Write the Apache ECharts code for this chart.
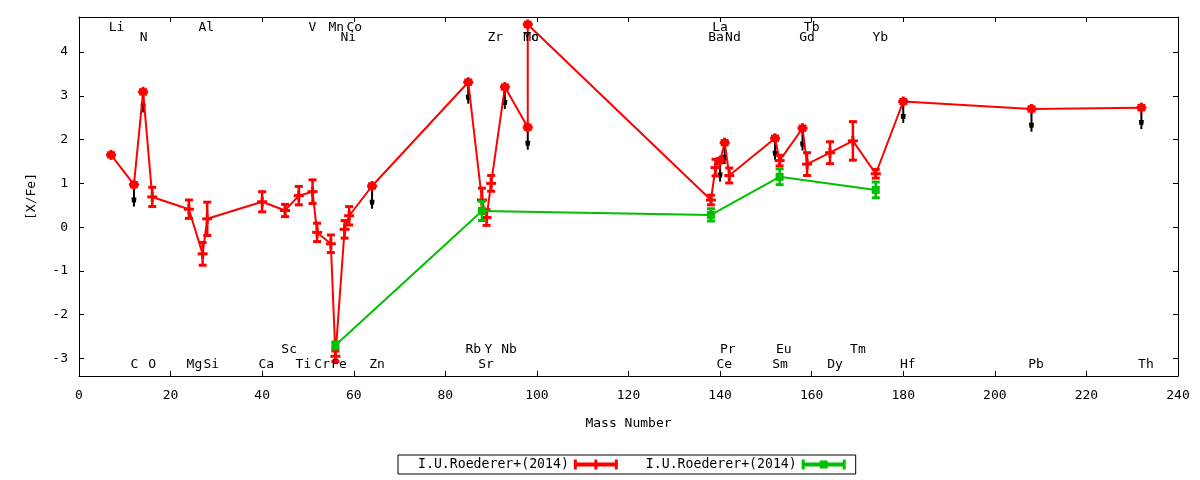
<!DOCTYPE html>
<html>
<head>
<meta charset="utf-8">
<script src="https://cdn.jsdelivr.net/npm/echarts@6/dist/echarts.min.js"></script>
<style>
  html, body { margin: 0; padding: 0; background: #fff; }
  #main { width: 1200px; height: 480px; }
</style>
</head>
<body>
<div id="main"></div>
<script>
// red set: mass number, [X/Fe], error
var redMass = [7, 12, 14, 16, 24, 27, 28, 40, 45, 48, 51, 52, 55, 56, 58, 59, 64,
  85, 88, 89, 90, 93, 98, 98, 138, 139, 140, 141, 142, 152, 153, 158, 159, 164, 169, 174, 180, 208, 232];
var redVal = [1.65, 0.97, 3.09, 0.69, 0.41, -0.61, 0.19, 0.58, 0.38, 0.72, 0.81, -0.12, -0.38, -2.95, -0.05, 0.26, 0.94,
  3.31, 0.62, 0.22, 1.0, 3.2, 2.28, 4.63, 0.62, 1.36, 1.52, 1.93, 1.18, 2.03, 1.52, 2.26, 1.44, 1.70, 1.97, 1.22, 2.87, 2.70, 2.73];
var redErr = [0.05, 0.05, 0.05, 0.22, 0.21, 0.26, 0.38, 0.23, 0.14, 0.21, 0.27, 0.21, 0.2, 0.12, 0.2, 0.21, 0.05,
  0.05, 0.27, 0.18, 0.18, 0.05, 0.05, 0.05, 0.11, 0.19, 0.05, 0.05, 0.17, 0.05, 0.12, 0.05, 0.26, 0.25, 0.44, 0.1, 0.05, 0.05, 0.05];

// green set
var greenMass = [56, 88, 138, 153, 174];
var greenVal = [-2.70, 0.37, 0.28, 1.15, 0.85];
var greenErr = [0.08, 0.22, 0.14, 0.18, 0.18];

// upper limit arrows (black)
var arrowMass = [12, 14, 64, 85, 93, 98, 140, 141, 152, 158, 180, 208, 232];
var arrowTop = [0.97, 3.09, 0.94, 3.31, 3.2, 2.28, 1.52, 1.93, 2.03, 2.26, 2.87, 2.70, 2.73];
var arrowTip = [0.47, 2.62, 0.42, 2.82, 2.70, 1.77, 1.04, 1.44, 1.54, 1.75, 2.38, 2.18, 2.24];

// element labels: name, x position, row (0,1 top; 2,3 bottom)
var labelNames = ['Li', 'Al', 'V', 'Mn', 'Co', 'La', 'Tb',
  'N', 'Ni', 'Zr', 'Mo', 'Tc', 'Ba', 'Nd', 'Gd', 'Yb',
  'Sc', 'Rb', 'Y', 'Nb', 'Pr', 'Eu', 'Tm',
  'C', 'O', 'Mg', 'Si', 'Ca', 'Ti', 'Cr', 'Fe', 'Zn', 'Sr', 'Ce', 'Sm', 'Dy', 'Hf', 'Pb', 'Th'];
var labelX = [8.2, 27.8, 51, 56.2, 60.1, 140, 160,
  14.1, 58.8, 90.9, 98.7, 98.7, 139.1, 142.8, 159, 175,
  45.9, 86.1, 89.4, 93.9, 141.7, 153.9, 170.1,
  12.1, 16, 25.2, 28.9, 40.9, 49, 53.1, 56.8, 65.1, 88.9, 140.9, 153.1, 165.1, 181, 209, 233];
var labelRow = [0, 0, 0, 0, 0, 0, 0,
  1, 1, 1, 1, 1, 1, 1, 1, 1,
  2, 2, 2, 2, 2, 2, 2,
  3, 3, 3, 3, 3, 3, 3, 3, 3, 3, 3, 3, 3, 3, 3, 3];

var seriesName = 'I.U.Roederer+(2014)';
var RED = '#ff0000';
var GREEN = '#00c000';
var FONT = 'DejaVu Sans Mono';

function zip3(a, b, c) {
  return a.map(function (v, i) { return [v, b[i], c[i]]; });
}

function errorBars(color, square) {
  return function (params, api) {
    var x = api.value(0), v = api.value(1), e = api.value(2);
    var c = api.coord([x, v]);
    var hi = api.coord([x, v + e]);
    var lo = api.coord([x, v - e]);
    var st = { stroke: color, lineWidth: 3 };
    var kids = [
      { type: 'line', shape: { x1: c[0], y1: hi[1], x2: c[0], y2: lo[1] }, style: { stroke: color, lineWidth: 2.5 } },
      { type: 'line', shape: { x1: c[0] - 4, y1: hi[1], x2: c[0] + 4, y2: hi[1] }, style: st },
      { type: 'line', shape: { x1: c[0] - 4, y1: lo[1], x2: c[0] + 4, y2: lo[1] }, style: st }
    ];
    if (square) {
      kids.push({ type: 'rect', shape: { x: c[0] - 4, y: c[1] - 4, width: 8, height: 8 }, style: { fill: color } });
    } else {
      kids.push({ type: 'line', shape: { x1: c[0] - 5, y1: c[1], x2: c[0] + 5, y2: c[1] }, style: st });
      kids.push({ type: 'line', shape: { x1: c[0], y1: c[1] - 5, x2: c[0], y2: c[1] + 5 }, style: st });
    }
    return { type: 'group', children: kids };
  };
}

function arrowItem(params, api) {
  var a = api.coord([api.value(0), api.value(1)]);
  var b = api.coord([api.value(0), api.value(2)]);
  return {
    type: 'group',
    children: [
      { type: 'line', shape: { x1: a[0], y1: a[1], x2: b[0], y2: b[1] }, style: { stroke: '#000', lineWidth: 2 } },
      { type: 'polygon', shape: { points: [[b[0] - 2.5, b[1] - 9], [b[0] + 2.5, b[1] - 9], [b[0] + 2, b[1] - 4], [b[0] - 2, b[1] - 4]] }, style: { fill: '#000' } }
    ]
  };
}

function labelItem(params, api) {
  var p = api.coord([api.value(0), 0]);
  var cs = params.coordSys;
  var rows = [cs.y + 10.5, cs.y + 20.5, cs.y + cs.height - 26, cs.y + cs.height - 11.5];
  return {
    type: 'text',
    x: p[0],
    y: rows[api.value(1)],
    style: {
      text: labelNames[params.dataIndex],
      align: 'center',
      verticalAlign: 'middle',
      fontSize: 13,
      fontFamily: FONT,
      fill: '#000'
    }
  };
}

var chart = echarts.init(document.getElementById('main'));

var axisText = { color: '#000', fontSize: 13, fontFamily: FONT };
var tick = { show: true, inside: true, length: 5, lineStyle: { color: '#000' } };
var line = { show: true, onZero: false, lineStyle: { color: '#000', width: 1 } };

var option = {
  backgroundColor: '#fff',
  animation: false,
  grid: { left: 79, right: 22, top: 17, bottom: 104 },
  legend: {
    left: 398,
    top: 455,
    align: 'right',
    orient: 'horizontal',
    borderColor: '#000',
    borderWidth: 1,
    borderRadius: 0,
    padding: [3, 10, 3, 20],
    itemGap: 28,
    itemWidth: 44,
    itemHeight: 10,
    textStyle: { color: '#000', fontSize: 13.2, fontFamily: FONT },
    data: [
      { name: seriesName, icon: 'path://M0,0H3V3H20.5V0H23.5V3H41V0H44V10H41V7H23.5V10H20.5V7H3V10H0Z' },
      { name: seriesName + '\u200b', icon: 'path://M0,0H3V3H18V1H26V3H41V0H44V10H41V7H26V9H18V7H3V10H0Z' }
    ]
  },
  xAxis: [{
    type: 'value',
    min: 0, max: 240, interval: 20,
    name: 'Mass Number',
    nameLocation: 'middle',
    nameGap: 41,
    nameTextStyle: axisText,
    axisLine: line,
    axisTick: tick,
    splitLine: { show: false },
    axisLabel: { color: '#000', fontSize: 13, fontFamily: FONT, margin: 13 }
  }, {
    type: 'value',
    position: 'top',
    min: 0, max: 240, interval: 20,
    axisLine: line,
    axisTick: tick,
    splitLine: { show: false },
    axisLabel: { show: false }
  }],
  yAxis: [{
    type: 'value',
    min: -3.4, max: 4.8, splitNumber: 8,
    name: '[X/Fe]',
    nameLocation: 'middle',
    nameGap: 41,
    nameTextStyle: axisText,
    axisLine: line,
    axisTick: tick,
    splitLine: { show: false },
    axisLabel: { color: '#000', fontSize: 13, fontFamily: FONT, margin: 11, showMinLabel: false, showMaxLabel: false }
  }, {
    type: 'value',
    position: 'right',
    min: -3.4, max: 4.8, splitNumber: 8,
    axisLine: line,
    axisTick: tick,
    splitLine: { show: false },
    axisLabel: { show: false }
  }],
  series: [
    {
      name: 'limits',
      type: 'custom',
      z: 1,
      silent: true,
      renderItem: arrowItem,
      encode: { x: 0, y: [1, 2] },
      data: zip3(arrowMass, arrowTop, arrowTip)
    },
    {
      name: seriesName,
      type: 'line',
      z: 2,
      showSymbol: false,
      itemStyle: { color: RED },
      lineStyle: { color: RED, width: 2 },
      data: redMass.map(function (m, i) { return [m, redVal[i]]; })
    },
    {
      name: 'redErr',
      type: 'custom',
      z: 3,
      silent: true,
      renderItem: errorBars(RED, false),
      encode: { x: 0, y: 1 },
      data: zip3(redMass, redVal, redErr)
    },
    {
      name: seriesName + '\u200b',
      type: 'line',
      z: 4,
      showSymbol: false,
      itemStyle: { color: GREEN },
      lineStyle: { color: GREEN, width: 2 },
      data: greenMass.map(function (m, i) { return [m, greenVal[i]]; })
    },
    {
      name: 'greenErr',
      type: 'custom',
      z: 5,
      silent: true,
      renderItem: errorBars(GREEN, true),
      encode: { x: 0, y: 1 },
      data: zip3(greenMass, greenVal, greenErr)
    },
    {
      name: 'elements',
      type: 'custom',
      z: 6,
      silent: true,
      renderItem: labelItem,
      encode: { x: 0, y: 1 },
      data: labelX.map(function (x, i) { return [x, labelRow[i]]; })
    }
  ]
};

chart.setOption(option);
</script>
</body>
</html>
